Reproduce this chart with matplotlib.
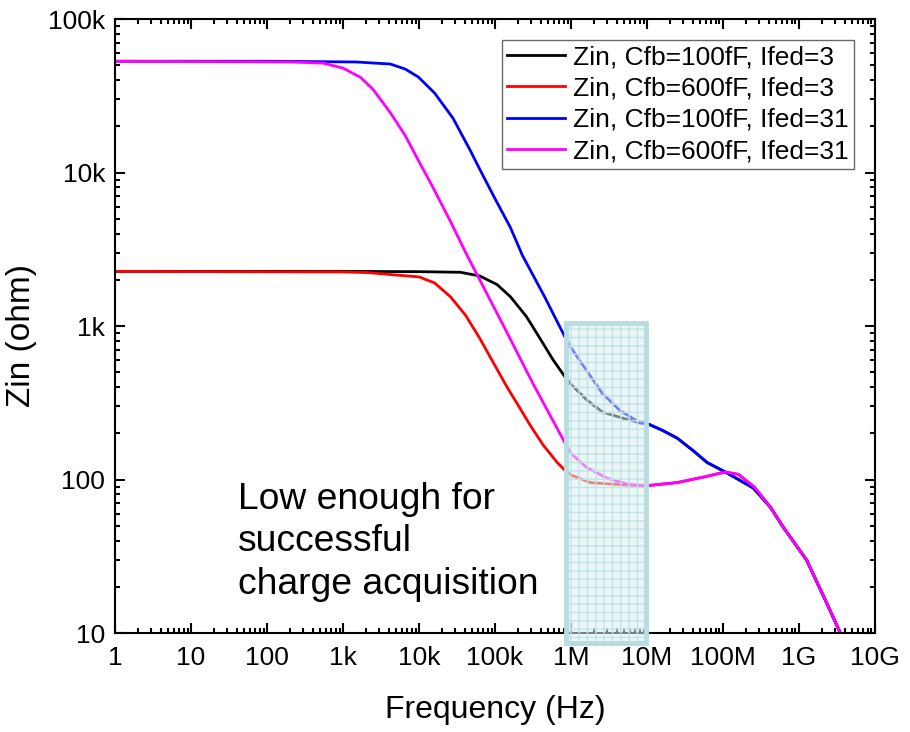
import numpy as np
import matplotlib
matplotlib.use("Agg")
import matplotlib.pyplot as plt
from matplotlib.patches import Rectangle

plt.rcParams['font.family'] = ['Liberation Sans', 'DejaVu Sans']

# ---------------------------------------------------------------------
#   Data (frequency in Hz, Zin in ohm)
f_black = [1, 1000, 1.0e4, 3.5e4, 6.3e4, 1.07e5, 1.6e5, 2.6e5, 3.9e5, 5.8e5,
           8.3e5, 1.0e6, 1.6e6, 2.6e6, 4.8e6, 8.1e6, 1e7, 1.6e7, 2.5e7, 4.0e7,
           6.2e7, 1.07e8, 1.6e8, 2.5e8, 4.2e8, 6.2e8, 1.26e9, 2.3e9, 3.5e9]
z_black = [2270, 2270, 2260, 2240, 2120, 1860, 1550, 1150, 832, 603,
           468, 417, 331, 275, 251, 234, 232, 209, 186, 155,
           129, 112, 100, 88.1, 66.1, 49.0, 29.9, 15.8, 10]

f_red = [1, 1000, 2100, 5600, 1.0e4, 1.6e4, 2.6e4, 4.1e4, 6.3e4, 9.3e4,
         1.45e5, 2.1e5, 2.9e5, 4.3e5, 6.6e5, 8.3e5, 1.0e6, 1.8e6, 3.5e6, 8.1e6,
         1e7, 2.5e7, 6.2e7, 1.07e8, 1.6e8, 2.6e8, 4.2e8, 6.2e8, 1.26e9, 2.3e9,
         3.5e9]
z_red = [2270, 2250, 2230, 2140, 2090, 1910, 1550, 1175, 832, 589,
         398, 295, 226, 168, 129, 115, 107, 95.5, 93.3, 91.2,
         91.2, 95.5, 105, 112, 108, 89.1, 66.1, 49.0, 29.9, 15.8,
         10]

f_blue = [1, 100, 1500, 4200, 6600, 9800, 1.6e4, 2.8e4, 4.7e4, 6.3e4,
          1.0e5, 1.6e5, 2.3e5, 4.5e5, 8.3e5, 1.0e6, 1.6e6, 2.6e6, 4.4e6, 8.1e6,
          1e7, 1.6e7, 2.5e7, 4.0e7, 6.2e7, 1.07e8, 1.6e8, 2.5e8, 4.2e8, 6.2e8,
          1.26e9, 2.3e9, 3.5e9]
z_blue = [53100, 53100, 52500, 50900, 47200, 41900, 33000, 22600, 14000, 10500,
          6760, 4370, 2880, 1550, 851, 724, 513, 363, 282, 234,
          232, 209, 186, 155, 129, 112, 100, 88.1, 66.1, 49.0,
          29.9, 15.8, 10]

f_mag = [1, 200, 550, 1000, 1700, 2500, 4200, 6600, 9300, 1.5e4,
         2.6e4, 4.3e4, 6.3e4, 1.3e5, 3.2e5, 8.3e5, 1.0e6, 1.6e6, 3.0e6, 5.5e6,
         1e7, 2.5e7, 6.2e7, 1.07e8, 1.6e8, 2.6e8, 4.2e8, 6.2e8, 1.26e9, 2.3e9,
         3.5e9]
z_mag = [53100, 52500, 51600, 47900, 41700, 34700, 24500, 17400, 12600, 8130,
         4790, 2880, 2000, 1000, 417, 174, 148, 120, 102, 93.3,
         91.2, 95.5, 105, 112, 108, 89.1, 66.1, 49.0, 29.9, 15.8,
         10]

series = [
    (f_black, z_black, 'black', 'Zin, Cfb=100fF, Ifed=3'),
    (f_red, z_red, '#ff0000', 'Zin, Cfb=600fF, Ifed=3'),
    (f_blue, z_blue, '#0000ff', 'Zin, Cfb=100fF, Ifed=31'),
    (f_mag, z_mag, '#ff00ff', 'Zin, Cfb=600fF, Ifed=31'),
]

x_ticks = [1, 10, 100, 1e3, 1e4, 1e5, 1e6, 1e7, 1e8, 1e9, 1e10]
x_labels = ['1', '10', '100', '1k', '10k', '100k', '1M', '10M', '100M', '1G', '10G']
y_ticks = [10, 100, 1e3, 1e4, 1e5]
y_labels = ['10', '100', '1k', '10k', '100k']

# band of interest (Hz, ohm)
band_f = [8.5e5, 9.8e6]
band_z = [8.6, 1050]

# ---------------------------------------------------------------------
fig = plt.figure(figsize=(9.1, 7.32), dpi=100)
ax = fig.add_axes([0.1264, 0.1352, 0.8351, 0.8388])

for f, z, c, lab in series:
    ax.plot(f, z, color=c, lw=2.0, label=lab)

ax.set_xscale('log')
ax.set_yscale('log')
ax.set_xlim(1, 1e10)
ax.set_ylim(10, 1e5)
ax.set_xticks(x_ticks)
ax.set_xticklabels(x_labels)
ax.set_yticks(y_ticks)
ax.set_yticklabels(y_labels)
ax.xaxis.set_minor_locator(matplotlib.ticker.LogLocator(base=10, subs=np.arange(2, 10), numticks=20))
ax.yaxis.set_minor_locator(matplotlib.ticker.LogLocator(base=10, subs=np.arange(2, 10), numticks=20))
ax.xaxis.set_minor_formatter(matplotlib.ticker.NullFormatter())
ax.yaxis.set_minor_formatter(matplotlib.ticker.NullFormatter())

ax.tick_params(which='both', direction='in', top=True, right=True, width=1.5)
ax.tick_params(which='major', length=7, labelsize=19)
ax.tick_params(which='minor', length=3.5)
ax.tick_params(axis='x', which='major', pad=9)
ax.tick_params(axis='y', which='major', pad=7)
for s in ax.spines.values():
    s.set_linewidth(1.5)

ax.set_xlabel('Frequency (Hz)', fontsize=23, labelpad=18)
ax.set_ylabel('Zin (ohm)', fontsize=24)
ax.yaxis.set_label_coords(-0.103, 0.484)

# shaded band with grid pattern
fill = Rectangle((band_f[0], band_z[0]), band_f[1] - band_f[0], band_z[1] - band_z[0],
                 facecolor=(0.86, 0.94, 0.95, 0.55), edgecolor='#c3e3e6', hatch='++',
                 lw=0, clip_on=False, zorder=5)
ax.add_patch(fill)
frame = Rectangle((band_f[0], band_z[0]), band_f[1] - band_f[0], band_z[1] - band_z[0],
                  facecolor='none', edgecolor='#b8dde0', lw=3.5, clip_on=False, zorder=6)
ax.add_patch(frame)

ax.text(0.162, 0.246, 'Low enough for\nsuccessful\ncharge acquisition',
        transform=ax.transAxes, fontsize=26.8, va='top', ha='left', linespacing=1.27)

leg = ax.legend(loc='upper right', bbox_to_anchor=(0.972, 0.966), borderaxespad=0,
                fontsize=19, frameon=True, fancybox=False, edgecolor='#444444',
                handlelength=2.2, handletextpad=0.3, labelspacing=0.28, borderpad=0.2)
leg.get_frame().set_linewidth(1.0)

plt.savefig('out.png', dpi=100)
